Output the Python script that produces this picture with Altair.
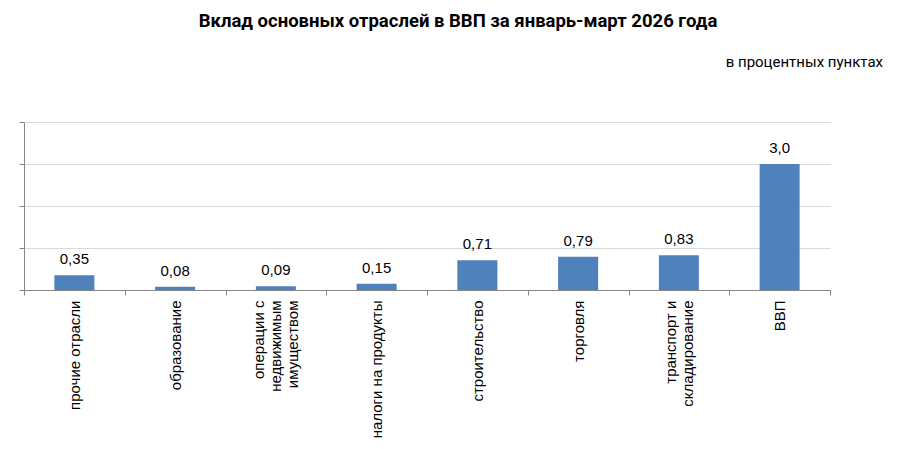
import altair as alt
import pandas as pd

categories = ["прочие отрасли", "образование", "операции с|недвижимым|имуществом",
              "налоги на продукты", "строительство", "торговля",
              "транспорт и|складирование", "ВВП"]
values = [0.35, 0.08, 0.09, 0.15, 0.71, 0.79, 0.83, 3.0]
value_labels = ["0,35", "0,08", "0,09", "0,15", "0,71", "0,79", "0,83", "3,0"]
title_text = "Вклад основных отраслей в ВВП за январь-март 2026 года"
subtitle_text = "в процентных пунктах"

df = pd.DataFrame({"cat": categories, "val": values, "lab": value_labels})

W, H = 806, 168
LH = 17

x_enc = alt.X("cat:N", sort=None, title=None,
              scale=alt.Scale(paddingInner=0, paddingOuter=0),
              axis=alt.Axis(labelAngle=-90, labelAlign="right", labelBaseline="middle",
                            labelExpr="split(datum.label, '|')",
                            labelFont="Liberation Sans", labelFontSize=15, labelColor="#000000",
                            labelLineHeight=LH, labelPadding=5, labelLimit=300,
                            labelOffset={"condition": [
                                {"test": "length(split(datum.value, '|')) == 3", "value": -LH},
                                {"test": "length(split(datum.value, '|')) == 2", "value": -LH / 2},
                            ], "value": 0},
                            tickBand="extent", tickSize=5, tickColor="#868686",
                            domainColor="#868686", grid=False))

bars = alt.Chart(df).mark_bar(size=40, color="#4F81BD").encode(
    x=x_enc,
    y=alt.Y("val:Q", title=None,
            scale=alt.Scale(domain=[0, 4], nice=False),
            axis=alt.Axis(values=[0, 1, 2, 3, 4], labels=False, tickSize=5,
                          tickColor="#868686", domainColor="#868686",
                          grid=True, gridColor="#d9d9d9")),
)

texts = alt.Chart(df).mark_text(baseline="alphabetic", dy=-11, font="Liberation Sans",
                                fontSize=15, color="#000000").encode(
    x=alt.X("cat:N", sort=None),
    y="val:Q",
    text="lab:N",
)

sub = alt.Chart(pd.DataFrame({"t": [subtitle_text]})).mark_text(
    align="right", baseline="alphabetic", font="Roboto", fontSize=15, color="#000000"
).encode(text="t:N", x=alt.value(859), y=alt.value(-55))

ttl = alt.Chart(pd.DataFrame({"t": [title_text]})).mark_text(
    align="center", baseline="alphabetic", font="Roboto", fontSize=18.5, fontWeight="bold",
    color="#000000"
).encode(text="t:N", x=alt.value(434), y=alt.value(-95))

chart = alt.layer(bars, texts, sub, ttl).properties(
    width=W, height=H,
    padding={"left": 16, "top": 114, "right": 65, "bottom": 151},
    autosize="none",
).configure_view(stroke=None)

chart.save("out.html", embed_options={"renderer": "svg", "actions": False})
